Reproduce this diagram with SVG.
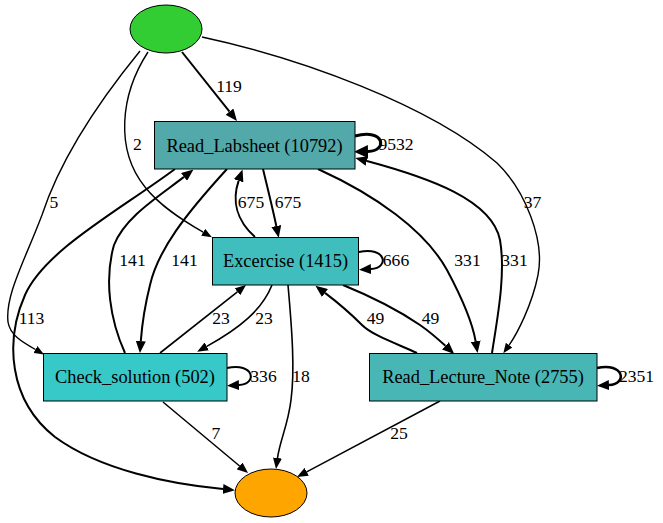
<svg xmlns="http://www.w3.org/2000/svg" width="663" height="523" viewBox="0 0 663 523">
<style>
.n{stroke:#000;stroke-width:1}
.t{font-family:"Liberation Serif","Times New Roman",serif;font-size:18.4px;text-anchor:middle;fill:#000}
.l{font-family:"Liberation Serif","Times New Roman",serif;font-size:17.6px;text-anchor:middle;fill:#000}
.e{fill:none;stroke:#000}
</style>
<defs>
<marker id="m1" markerUnits="userSpaceOnUse" markerWidth="10" markerHeight="8" refX="0" refY="4" orient="auto" viewBox="0 0 10 8"><path d="M0,0 L10,4 L0,8 z" fill="#000"/></marker>
<marker id="m15" markerUnits="userSpaceOnUse" markerWidth="11" markerHeight="9" refX="0" refY="4.5" orient="auto" viewBox="0 0 11 9"><path d="M0,0 L11,4.5 L0,9 z" fill="#000"/></marker>
<marker id="m2" markerUnits="userSpaceOnUse" markerWidth="12" markerHeight="10" refX="0" refY="5" orient="auto" viewBox="0 0 12 10"><path d="M0,0 L12,5 L0,10 z" fill="#000"/></marker>
<marker id="m3" markerUnits="userSpaceOnUse" markerWidth="14" markerHeight="13" refX="0" refY="6.5" orient="auto" viewBox="0 0 14 13"><path d="M0,0 L14,6.5 L0,13 z" fill="#000"/></marker>
</defs>
<rect x="0" y="0" width="663" height="523" fill="#fff"/>
<g id="edges">
<path class="e" stroke-width="2" marker-end="url(#m2)" d="M182,52 L229.5,111.6"/>
<text class="l" x="229" y="92">119</text>
<path class="e" stroke-width="1.4" marker-end="url(#m1)" d="M148,52 C120,95 115,150 145,187 C160,206 182,220 203.2,232.2"/>
<text class="l" x="137.5" y="150">2</text>
<path class="e" stroke-width="1.4" marker-end="url(#m1)" d="M140,51 C100,100 60,160 42,215 C25,260 5,295 8,322 C10,335 22,342 35.4,349.5"/>
<text class="l" x="54" y="208">5</text>
<path class="e" stroke-width="1.4" marker-end="url(#m1)" d="M202,37 C300,58 430,105 497,163 C525,190 545,240 538,275 C532,305 517,334 509.1,345.1"/>
<text class="l" x="532.5" y="208">37</text>
<path class="e" stroke-width="3" marker-end="url(#m3)" d="M355,136 C385,128 388,151 368,151.5"/>
<text class="l" x="396" y="149.5">9532</text>
<path class="e" stroke-width="2" marker-end="url(#m2)" d="M263,169 C268,190 273,210 276.3,226"/>
<text class="l" x="288" y="208">675</text>
<path class="e" stroke-width="2" marker-end="url(#m2)" d="M255,237 C236,220 232,200 238.6,180.8"/>
<text class="l" x="251" y="208">675</text>
<path class="e" stroke-width="2" marker-end="url(#m2)" d="M227,169 C185,215 158,250 150,285 C145,305 142,325 140.8,341.1"/>
<text class="l" x="184.5" y="266">141</text>
<path class="e" stroke-width="2" marker-end="url(#m2)" d="M125,353 C110,320 104,280 114,245 C125,217 158,197 184,176.9"/>
<text class="l" x="132.5" y="266">141</text>
<path class="e" stroke-width="2" marker-end="url(#m2)" d="M175,169 C120,210 45,250 25,295 C5,340 8,400 55,437 C100,470 170,484 223,489"/>
<text class="l" x="31.5" y="324">113</text>
<path class="e" stroke-width="2" marker-end="url(#m2)" d="M318,169 C375,195 425,230 447,270 C462,298 472,320 475.6,341.2"/>
<text class="l" x="467.5" y="266">331</text>
<path class="e" stroke-width="2" marker-end="url(#m2)" d="M492,353 C497,320 506,275 500,240 C492,200 430,178 366.9,161"/>
<text class="l" x="514.5" y="266">331</text>
<path class="e" stroke-width="2" marker-end="url(#m2)" d="M359,252 C386,246 390,268 371,269"/>
<text class="l" x="396" y="266">666</text>
<path class="e" stroke-width="1.6" marker-end="url(#m15)" d="M272,285 C262,310 240,328 206.8,346.4"/>
<text class="l" x="264" y="324">23</text>
<path class="e" stroke-width="1.6" marker-end="url(#m15)" d="M160,353 L237.4,291.8"/>
<text class="l" x="221" y="324">23</text>
<path class="e" stroke-width="2" marker-end="url(#m2)" d="M343,285 C370,296 398,310 420,325 C430,332 438,339 445.4,345.8"/>
<text class="l" x="430.5" y="324">49</text>
<path class="e" stroke-width="2" marker-end="url(#m2)" d="M417,353 C395,343 372,335 362,325 C350,313 337,302 325,292.9"/>
<text class="l" x="375.5" y="324">49</text>
<path class="e" stroke-width="1.6" marker-end="url(#m15)" d="M288,285 C292,330 295,370 291,400 C288,425 280,440 277.5,458"/>
<text class="l" x="301" y="382">18</text>
<path class="e" stroke-width="2" marker-end="url(#m2)" d="M227,368 C254,362 258,384 239,385"/>
<text class="l" x="263.5" y="382">336</text>
<path class="e" stroke-width="1.5" marker-end="url(#m15)" d="M163,402 L239.6,466"/>
<text class="l" x="216" y="439">7</text>
<path class="e" stroke-width="2.5" marker-end="url(#m2)" d="M597,368 C624,362 628,384 609,385"/>
<text class="l" x="636.5" y="382">2351</text>
<path class="e" stroke-width="1.5" marker-end="url(#m15)" d="M440,401 L306.7,471.8"/>
<text class="l" x="399" y="439">25</text>
</g>
<g id="start"><ellipse class="n" cx="166" cy="29" rx="36" ry="24" fill="#32cd32"/></g>
<g id="end"><ellipse class="n" cx="271" cy="493" rx="36" ry="24" fill="#ffa500"/></g>
<g id="read_labsheet"><rect class="n" x="154.5" y="121.5" width="200.5" height="47.5" fill="#53a9aa"/><text class="t" x="254.5" y="151.5">Read_Labsheet (10792)</text></g>
<g id="excercise"><rect class="n" x="212.5" y="237.5" width="146" height="47.5" fill="#40bdbd"/><text class="t" x="285.5" y="267">Excercise (1415)</text></g>
<g id="check_solution"><rect class="n" x="43.5" y="353.5" width="183.5" height="47.5" fill="#37c8c8"/><text class="t" x="135" y="382.5">Check_solution (502)</text></g>
<g id="read_lecture_note"><rect class="n" x="369.5" y="353.5" width="227.5" height="47.5" fill="#49b6b6"/><text class="t" x="483" y="383">Read_Lecture_Note (2755)</text></g>
</svg>
